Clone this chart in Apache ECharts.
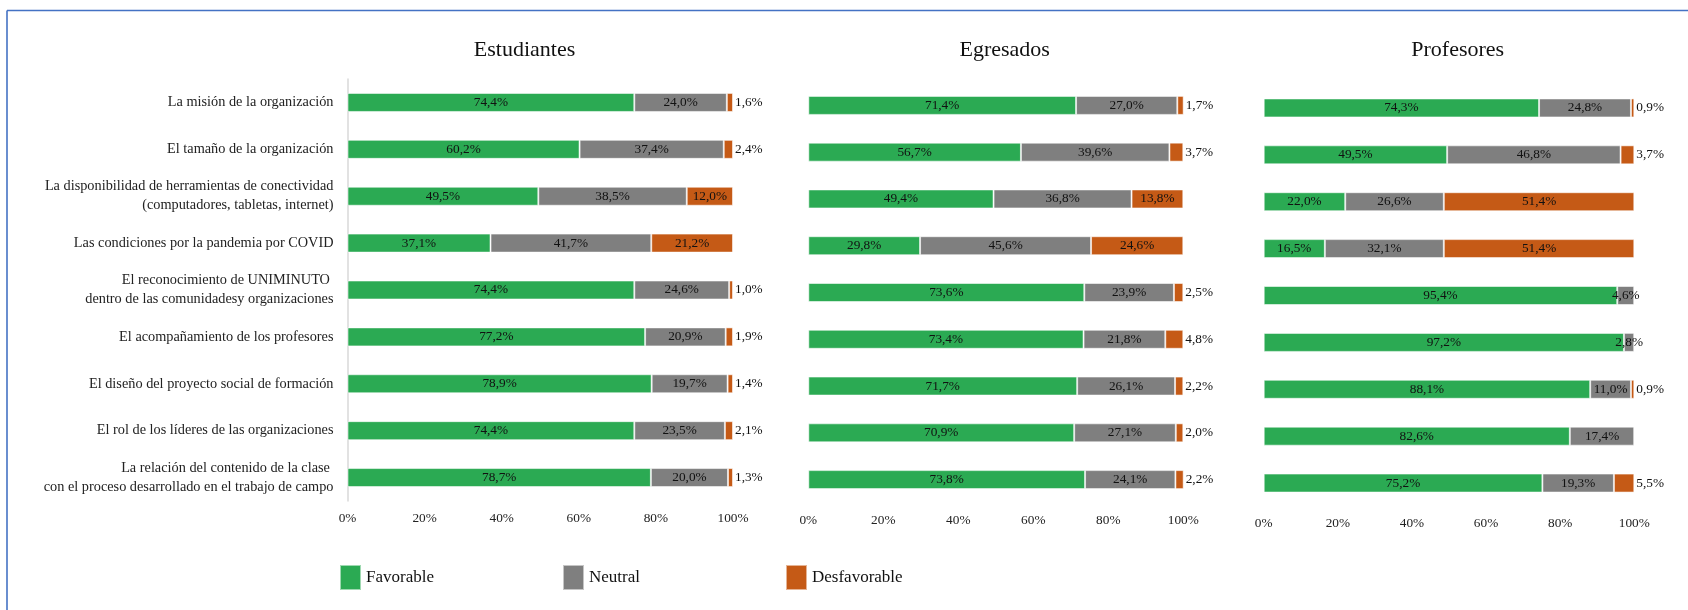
<!DOCTYPE html>
<html>
<head>
<meta charset="utf-8">
<script src="https://cdn.jsdelivr.net/npm/echarts@6/dist/echarts.min.js"></script>
<style>html,body{margin:0;padding:0;background:#fff;}#c{width:1688px;height:610px;}</style>
</head>
<body>
<div id="c"></div>
<script>
const categories = [
  'La misión de la organización',
  'El tamaño de la organización',
  'La disponibilidad de herramientas de conectividad\n(computadores, tabletas, internet)',
  'Las condiciones por la pandemia por COVID',
  'El reconocimiento de UNIMINUTO \ndentro de las comunidadesy organizaciones',
  'El acompañamiento de los profesores',
  'El diseño del proyecto social de formación',
  'El rol de los líderes de las organizaciones',
  'La relación del contenido de la clase \ncon el proceso desarrollado en el trabajo de campo'
];
const panelTitles = ['Estudiantes', 'Egresados', 'Profesores'];
const seriesNames = ['Favorable', 'Neutral', 'Desfavorable'];
const xTicks = [0, 20, 40, 60, 80, 100];

const estFavorable    = [74.4, 60.2, 49.5, 37.1, 74.4, 77.2, 78.9, 74.4, 78.7];
const estNeutral      = [24.0, 37.4, 38.5, 41.7, 24.6, 20.9, 19.7, 23.5, 20.0];
const estDesfavorable = [1.6, 2.4, 12.0, 21.2, 1.0, 1.9, 1.4, 2.1, 1.3];

const egrFavorable    = [71.4, 56.7, 49.4, 29.8, 73.6, 73.4, 71.7, 70.9, 73.8];
const egrNeutral      = [27.0, 39.6, 36.8, 45.6, 23.9, 21.8, 26.1, 27.1, 24.1];
const egrDesfavorable = [1.7, 3.7, 13.8, 24.6, 2.5, 4.8, 2.2, 2.0, 2.2];

const proFavorable    = [74.3, 49.5, 22.0, 16.5, 95.4, 97.2, 88.1, 82.6, 75.2];
const proNeutral      = [24.8, 46.8, 26.6, 32.1, 4.6, 2.8, 11.0, 17.4, 19.3];
const proDesfavorable = [0.9, 3.7, 51.4, 51.4, 0, 0, 0.9, 0, 5.5];

const panels = [
  [estFavorable, estNeutral, estDesfavorable],
  [egrFavorable, egrNeutral, egrDesfavorable],
  [proFavorable, proNeutral, proDesfavorable]
];

const colors = ['#2BAA53', '#7F7F7F', '#C55A16'];
const FONT = 'Liberation Serif';

const grids = [
  {left: 347.5, width: 385.5, top: 79, height: 422},
  {left: 808.3, width: 375, top: 82, height: 421},
  {left: 1263.7, width: 370.6, top: 84.5, height: 422}
];
const titleX = [519.5, 999.7, 1452.7];

const fmt = v => (v === 0 ? '' : v.toFixed(1).replace('.', ',') + '%');

const series = [];
panels.forEach((p, gi) => {
  p.forEach((vals, si) => {
    series.push({
      name: seriesNames[si],
      type: 'bar',
      stack: 'p' + gi,
      xAxisIndex: gi,
      yAxisIndex: gi,
      barWidth: 19,
      itemStyle: {color: colors[si], borderColor: 'rgba(255,255,255,0.55)', borderWidth: 1},
      data: vals.map(v => ({
        value: v,
        label: (si === 2 && v > 0 && v < 10)
          ? {position: 'right', distance: 2}
          : {position: 'inside'}
      })),
      label: {
        show: true,
        fontFamily: FONT,
        fontSize: 13.3,
        color: '#111',
        formatter: d => fmt(d.value)
      },
      emphasis: {disabled: true}
    });
  });
});

const option = {
  animation: false,
  backgroundColor: '#fff',
  title: panelTitles.map((t, i) => ({
    text: t,
    left: titleX[i],
    top: 34,
    textAlign: 'center',
    textStyle: {fontFamily: FONT, fontSize: 22, fontWeight: 'normal', color: '#111'}
  })),
  legend: seriesNames.map((n, i) => ({
    data: [n],
    left: [334, 557, 780][i],
    top: 559,
    itemWidth: 21,
    itemHeight: 25,
    icon: 'rect',
    selectedMode: false,
    textStyle: {fontFamily: FONT, fontSize: 17, color: '#111'}
  })),
  grid: grids,
  xAxis: grids.map((g, i) => ({
    type: 'value',
    gridIndex: i,
    min: 0,
    max: 100,
    interval: 20,
    axisLine: {show: false},
    axisTick: {show: false},
    splitLine: {show: false},
    axisLabel: {
      fontFamily: FONT, fontSize: 13.3, color: '#222', margin: 11,
      formatter: v => (xTicks.indexOf(v) >= 0 ? v + '%' : '')
    }
  })),
  yAxis: grids.map((g, i) => ({
    type: 'category',
    gridIndex: i,
    data: categories,
    inverse: true,
    axisLine: {show: i === 0, lineStyle: {color: '#D9D9D9', width: 1.5}},
    axisTick: {show: false},
    axisLabel: {
      show: i === 0,
      fontFamily: FONT, fontSize: 14.3, color: '#222',
      margin: 14, lineHeight: 19, align: 'right'
    }
  })),
  graphic: [
    {type: 'line', shape: {x1: 7, y1: 10.5, x2: 1688, y2: 10.5}, style: {stroke: '#4472C4', lineWidth: 1.6}},
    {type: 'line', shape: {x1: 7, y1: 10.5, x2: 7, y2: 610}, style: {stroke: '#4472C4', lineWidth: 1.6}}
  ],
  series: series
};

const chart = echarts.init(document.getElementById('c'), null, {renderer: 'canvas'});
chart.setOption(option);
</script>
</body>
</html>
